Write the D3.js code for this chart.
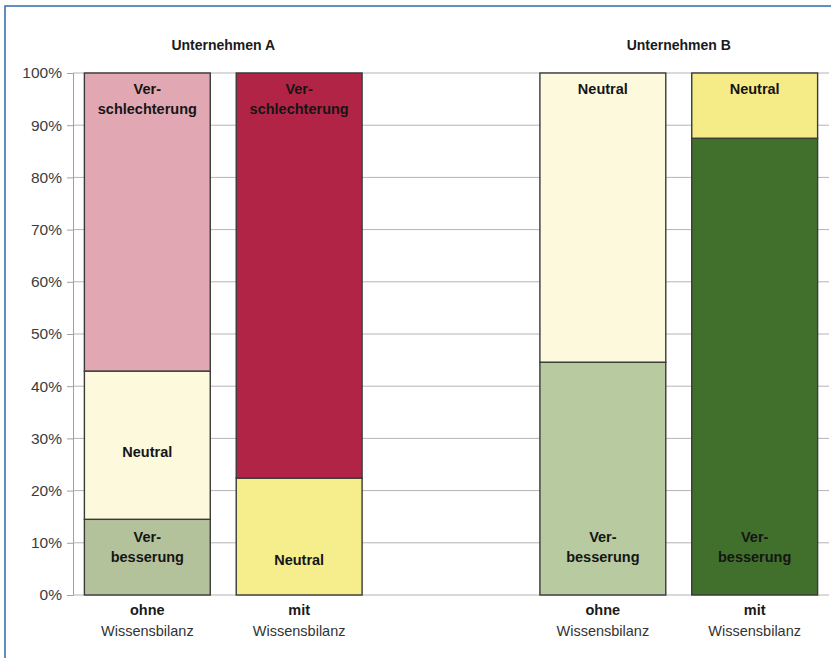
<!DOCTYPE html>
<html><head><meta charset="utf-8">
<script src="https://cdn.jsdelivr.net/npm/d3@7"></script>
<style>body{margin:0;background:#fff}svg{display:block}text{font-family:"Liberation Sans",Arial,sans-serif}</style>
</head><body><svg id="c" width="831" height="658"></svg>
<script>
// ---- data ----
const bars = ["A-ohne", "A-mit", "B-ohne", "B-mit"];
const barTop = ["ohne", "mit", "ohne", "mit"];
const barBottom = ["Wissensbilanz", "Wissensbilanz", "Wissensbilanz", "Wissensbilanz"];
const groups = ["Unternehmen A", "Unternehmen B"];
const segments = ["Verbesserung", "Neutral", "Verschlechterung"];
const verbesserung = [14.5, 0, 44.6, 87.5];
const neutral = [28.4, 22.4, 55.4, 12.5];
const verschlechterung = [57.1, 77.6, 0, 0];
const yTicks = [0, 10, 20, 30, 40, 50, 60, 70, 80, 90, 100];

// ---- styles ----
const colors = {
  "A-ohne": {Verbesserung: "#B4C29B", Neutral: "#FCF9DC", Verschlechterung: "#E1A8B3"},
  "A-mit":  {Verbesserung: "#B4C29B", Neutral: "#F6EE8C", Verschlechterung: "#B22446"},
  "B-ohne": {Verbesserung: "#B8CAA0", Neutral: "#FCF9DD", Verschlechterung: "#E1A8B3"},
  "B-mit":  {Verbesserung: "#40702B", Neutral: "#F5EC88", Verschlechterung: "#B22446"}
};
const labelText = {Verbesserung: ["Ver-", "besserung"], Neutral: ["Neutral"], Verschlechterung: ["Ver-", "schlechterung"]};

const svg = d3.select("#c");
// frame
svg.append("rect").attr("x", 5).attr("y", 6).attr("width", 840).attr("height", 680)
  .attr("fill", "none").attr("stroke", "#3A74AD").attr("stroke-width", 1.6);

const y = d3.scaleLinear().domain([0, 100]).range([595, 73]);
const slots = ["A-ohne", "A-mit", "gap", "B-ohne", "B-mit"];
const x = d3.scaleBand().domain(slots).range([73, 829]).paddingInner(0.171).paddingOuter(0.075);

// gridlines
svg.append("g").selectAll("line").data(yTicks.filter(d => d > 0)).join("line")
  .attr("x1", 73).attr("x2", 829).attr("y1", d => y(d)).attr("y2", d => y(d))
  .attr("stroke", "#b4b4b4").attr("stroke-width", 1);
svg.append("line").attr("x1", 73).attr("x2", 829).attr("y1", y(0)).attr("y2", y(0))
  .attr("stroke", "#b4b4b4");

// y axis
const ax = svg.append("g").attr("transform", "translate(73,0)")
  .call(d3.axisLeft(y).tickValues(yTicks).tickFormat(d => d + "%").tickSize(6).tickPadding(5));
ax.select(".domain").attr("stroke", "#a0a0a0");
ax.selectAll(".tick line").attr("stroke", "#a0a0a0");
ax.selectAll(".tick text").attr("fill", "#3c3c3c").style("font-size", "15.5px")
  .style("font-family", "'Liberation Sans',Arial,sans-serif");

// stacked bars
const table = bars.map((b, i) => ({bar: b, Verbesserung: verbesserung[i], Neutral: neutral[i], Verschlechterung: verschlechterung[i]}));
const stack = d3.stack().keys(segments)(table);
const segs = [];
stack.forEach(layer => layer.forEach((d, i) => {
  if (d[1] - d[0] > 0) segs.push({key: layer.key, bar: bars[i], i, y0: d[0], y1: d[1]});
}));
const bw = x.bandwidth();
svg.append("g").selectAll("rect").data(segs).join("rect")
  .attr("x", d => x(d.bar)).attr("width", bw)
  .attr("y", d => y(d.y1)).attr("height", d => y(d.y0) - y(d.y1))
  .attr("fill", d => colors[d.bar][d.key])
  .attr("stroke", "#3a3a3a").attr("stroke-width", 1.4);

// segment labels
segs.forEach(d => {
  const lines = labelText[d.key];
  const cx = x(d.bar) + bw / 2;
  let base;
  if (d.y1 >= 99.9 && d.y0 > 0) base = y(d.y1) + 21;          // anchored top
  else if (d.y0 <= 0.1 && d.y1 < 99.9 && lines.length === 2) base = y(0) - 53; // bottom two lines
  else if (d.y0 <= 0.1 && d.y1 < 99.9 && d.key === "Neutral") base = y(0) - 30; // bottom single
  else if (d.y0 <= 0.1) base = y(0) - 53;
  else base = (y(d.y0) + y(d.y1)) / 2 + 12;                    // middle
  lines.forEach((t, k) => {
    svg.append("text").attr("x", cx).attr("y", base + k * 20)
      .attr("text-anchor", "middle").attr("fill", "#151515")
      .style("font-weight", "bold").style("font-size", "14.5px").text(t);
  });
});

// category labels
bars.forEach((b, i) => {
  const cx = x(b) + bw / 2;
  svg.append("text").attr("x", cx).attr("y", 615).attr("text-anchor", "middle")
    .attr("fill", "#1a1a1a").style("font-weight", "bold").style("font-size", "14.5px").text(barTop[i]);
  svg.append("text").attr("x", cx).attr("y", 636).attr("text-anchor", "middle")
    .attr("fill", "#333").style("font-size", "14.5px").text(barBottom[i]);
});

// group titles
groups.forEach((g, gi) => {
  const b0 = bars[gi * 2], b1 = bars[gi * 2 + 1];
  const cx = (x(b0) + x(b1) + bw) / 2;
  svg.append("text").attr("x", cx).attr("y", 50).attr("text-anchor", "middle")
    .attr("fill", "#1a1a1a").style("font-weight", "bold").style("font-size", "14px").text(g);
});
</script></body></html>
